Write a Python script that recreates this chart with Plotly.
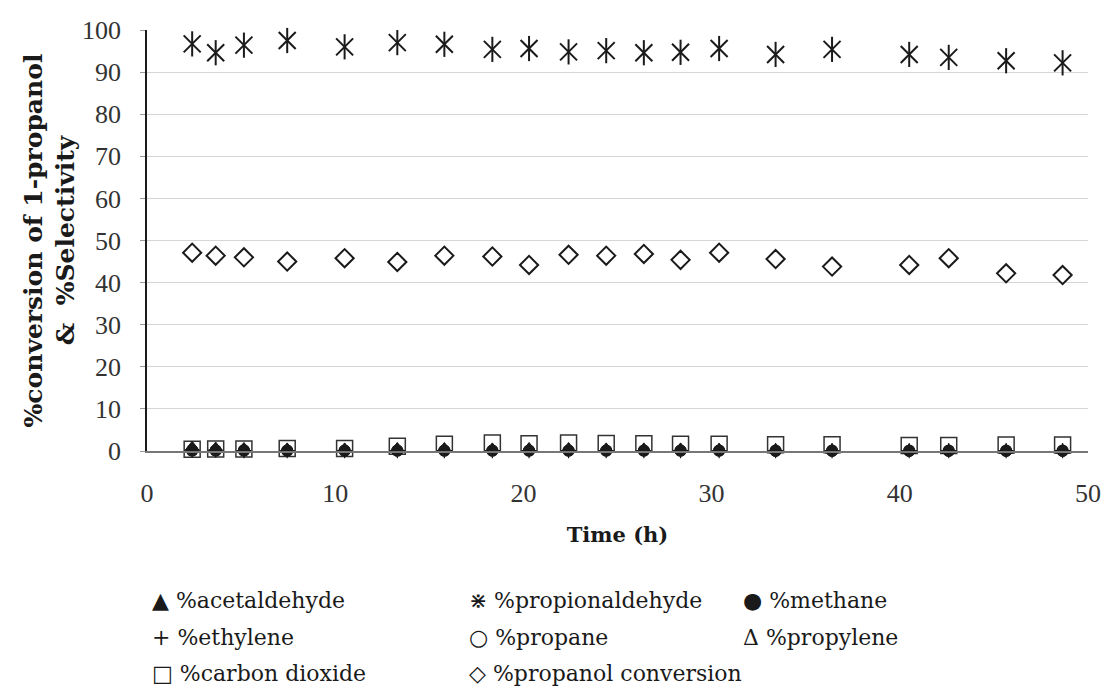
import plotly.graph_objects as go

# ---------------- data ----------------
time_h = [2.4, 3.65, 5.15, 7.45, 10.5, 13.3, 15.8, 18.35, 20.3, 22.4,
          24.4, 26.4, 28.35, 30.4, 33.4, 36.4, 40.5, 42.6, 45.65, 48.65]

propionaldehyde = [96.7, 94.6, 96.4, 97.5, 96.0, 97.0, 96.6, 95.4, 95.6, 94.8,
                   95.1, 94.6, 94.7, 95.6, 94.2, 95.4, 94.2, 93.5, 92.7, 92.2]
propanol_conv = [47.1, 46.4, 46.0, 45.0, 45.8, 44.9, 46.4, 46.2, 44.2, 46.6,
                 46.4, 46.8, 45.4, 47.1, 45.6, 43.8, 44.2, 45.8, 42.2, 41.8]
carbon_dioxide = [0.4, 0.5, 0.5, 0.6, 0.6, 1.1, 1.6, 1.9, 1.7, 1.9,
                  1.8, 1.7, 1.6, 1.6, 1.5, 1.5, 1.3, 1.3, 1.4, 1.4]
acetaldehyde = [0.9, 0.7, 0.6, 0.5, 0.5, 0.6, 0.6, 0.5, 0.6, 0.6,
                0.5, 0.5, 0.5, 0.4, 0.3, 0.3, 0.2, 0.2, 0.2, 0.2]
methane = [0.2, 0.2, 0.2, 0.1, 0.1, 0.1, 0.1, 0.1, 0.1, 0.1,
           0.1, 0.1, 0.1, 0.1, 0.0, 0.0, 0.0, 0.0, 0.0, 0.0]
ethylene = [0.2, 0.2, 0.1, 0.1, 0.1, 0.1, 0.1, 0.1, 0.1, 0.1,
            0.1, 0.1, 0.1, 0.1, 0.1, 0.1, 0.1, 0.1, 0.1, 0.1]
propane = [0.1, 0.1, 0.1, 0.1, 0.1, 0.1, 0.1, 0.1, 0.1, 0.1,
           0.1, 0.1, 0.1, 0.1, 0.1, 0.1, 0.1, 0.1, 0.1, 0.1]
propylene = [0.4, 0.4, 0.3, 0.3, 0.3, 0.3, 0.3, 0.3, 0.3, 0.3,
             0.3, 0.3, 0.3, 0.3, 0.3, 0.2, 0.2, 0.2, 0.2, 0.2]

x_ticks = [0, 10, 20, 30, 40, 50]
y_ticks = [0, 10, 20, 30, 40, 50, 60, 70, 80, 90, 100]

legend_labels = [
    ("▲ %acetaldehyde", "⋇ %propionaldehyde", "● %methane"),
    ("+ %ethylene", "○ %propane", "Δ %propylene"),
    ("□ %carbon dioxide", "◇ %propanol conversion", None),
]

# ---------------- figure ----------------
TICK_FONT = "Liberation Serif"
TEXT_FONT = "DejaVu Serif"
INK = "#1a1a1a"
W, H = 1118, 695
ML, MR, MT, MB = 147, 30, 30, 244

fig = go.Figure()

def add(y, name, symbol, size, lw=1.5, color=INK, showlegend=True):
    fig.add_trace(go.Scatter(
        x=time_h, y=y, mode="markers", name=name, showlegend=showlegend,
        marker=dict(symbol=symbol, size=size, color=color,
                    line=dict(color=color, width=lw)),
        cliponaxis=False,
    ))

add(carbon_dioxide, "%carbon dioxide", "square-open", 16, 1.5, "#333333")
add(propane, "%propane", "circle-open", 11, 1.2)
add(propylene, "%propylene", "triangle-up-open", 11, 1.2)
add(ethylene, "%ethylene", "cross-thin-open", 11, 1.2)
add(methane, "%methane", "circle", 11, 1)
add(acetaldehyde, "%acetaldehyde", "triangle-up", 12, 1)
add(propanol_conv, "%propanol conversion", "diamond-open", 14, 2)
add(propionaldehyde, "%propionaldehyde", "x-thin-open", 17, 2)
add(propionaldehyde, "%propionaldehyde", "line-ns-open", 18, 2, showlegend=False)

fig.update_layout(
    width=W, height=H,
    margin=dict(l=ML, r=MR, t=MT, b=MB),
    paper_bgcolor="white", plot_bgcolor="white",
    showlegend=False,
    font=dict(family=TICK_FONT, size=24, color=INK),
    xaxis=dict(
        range=[0, 50], tickvals=x_ticks, ticktext=[str(v) for v in x_ticks],
        showgrid=False, zeroline=False,
        showline=True, linecolor="#777777", linewidth=1.5,
        ticks="", ticklabelstandoff=18,
        tickfont=dict(family=TICK_FONT, size=26, color="#333333"),
        title=dict(text="<b>Time (h)</b>", standoff=20,
                   font=dict(family=TEXT_FONT, size=21, color=INK)),
    ),
    yaxis=dict(
        range=[0, 100], tickvals=y_ticks, ticktext=[str(v) for v in y_ticks],
        showgrid=True, gridcolor="#d6d6d6", gridwidth=1,
        zeroline=False,
        showline=True, linecolor=INK, linewidth=1.5,
        ticks="outside", ticklen=5, tickcolor="#999999",
        ticklabelstandoff=14,
        tickfont=dict(family=TICK_FONT, size=26, color="#333333"),
        title=dict(text="<b>%conversion of 1-propanol<br>&  %Selectivity</b>",
                   standoff=0, font=dict(family=TEXT_FONT, size=25, color=INK)),
    ),
)

# legend drawn as text rows below the plot
col_px = [150, 467, 741]
row_px = [600, 637, 673]
pw = W - ML - MR
ph = H - MT - MB
for r, row in enumerate(legend_labels):
    for c, label in enumerate(row):
        if label is None:
            continue
        fig.add_annotation(
            x=(col_px[c] - ML) / pw, y=1 - (row_px[r] - MT) / ph,
            xref="paper", yref="paper", xanchor="left", yanchor="middle",
            text=label, showarrow=False,
            font=dict(family=TEXT_FONT, size=22, color=INK),
        )

fig.write_html("out.html")
